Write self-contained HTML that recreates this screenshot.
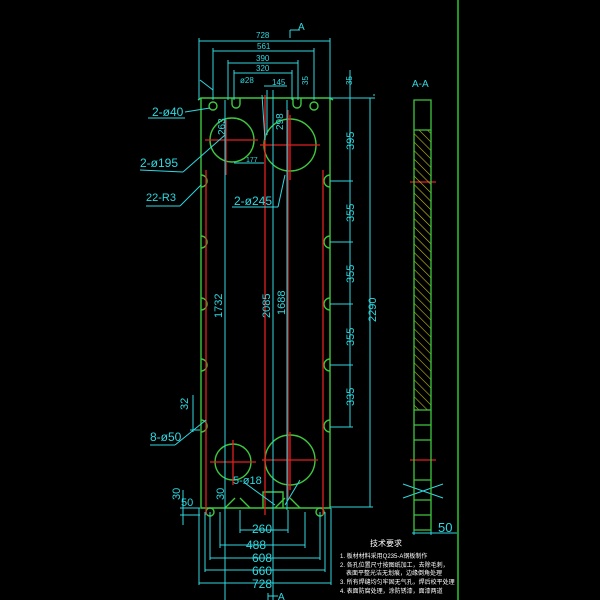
<!DOCTYPE html>
<html><head><meta charset="utf-8"><style>
html,body{margin:0;padding:0;background:#000;}
svg{display:block}
text{font-family:"Liberation Sans","Noto Sans CJK SC",sans-serif;fill:#2fd8e0;}
</style></head><body>
<svg width="600" height="600" viewBox="0 0 600 600" xmlns="http://www.w3.org/2000/svg">
<rect width="600" height="600" fill="#000"/>
<defs>
<pattern id="h" width="6" height="6" patternUnits="userSpaceOnUse" patternTransform="rotate(-45)">
<line x1="0" y1="0" x2="0" y2="6" stroke="#c8c020" stroke-width="1.2"/></pattern>
</defs>
<!-- right border line -->
<line x1="458" y1="0" x2="458" y2="600" stroke="#2ec82e" stroke-width="1.5"/>

<!-- plate outline -->
<g fill="none" stroke="#3ec83e" stroke-width="1.4">
<path d="M201,98 L330,98 L330,508 L201,508 Z"/>
<path d="M201,98 L198,100 M330,98 L333,100"/>
<g>
<path d="M201,175 a6,6 0 0 1 0,12"/><path d="M201,236 a6,6 0 0 1 0,12"/><path d="M201,298 a6,6 0 0 1 0,12"/><path d="M201,359 a6,6 0 0 1 0,12"/><path d="M201,420 a6,6 0 0 1 0,12"/>
<path d="M330,175 a6,6 0 0 0 0,12"/><path d="M330,236 a6,6 0 0 0 0,12"/><path d="M330,298 a6,6 0 0 0 0,12"/><path d="M330,359 a6,6 0 0 0 0,12"/><path d="M330,420 a6,6 0 0 0 0,12"/>
</g>
<circle cx="232" cy="140" r="22"/>
<circle cx="290" cy="145" r="26"/>
<circle cx="233" cy="462" r="18"/>
<circle cx="290" cy="460" r="25"/>
<circle cx="213" cy="106" r="4"/><circle cx="314" cy="106" r="4"/>
<circle cx="210" cy="512" r="4"/><circle cx="320" cy="512" r="4"/>
<path d="M232,98 v6 a4,4 0 0 0 8,0 v-6 M293,98 v6 a4,4 0 0 0 8,0 v-6"/>
<path d="M263,508 v-16 h20 v16"/>
<path d="M225,508 l10,-10 M250,508 l-10,-10 M275,508 l10,-10 M300,508 l-10,-10"/>
</g>

<!-- red centre lines -->
<g stroke="#e02020" stroke-width="1.3">
<line x1="206" y1="170" x2="206" y2="515"/>
<line x1="323" y1="170" x2="323" y2="515"/>
<line x1="265" y1="95" x2="265" y2="515"/>
<line x1="288" y1="110" x2="288" y2="500"/>
<line x1="226" y1="120" x2="226" y2="175"/>
<line x1="205" y1="140" x2="258" y2="140"/>
<line x1="260" y1="145" x2="320" y2="145"/>
<line x1="290" y1="115" x2="290" y2="180"/>
<line x1="210" y1="462" x2="256" y2="462"/>
<line x1="262" y1="460" x2="318" y2="460"/>
<line x1="290" y1="432" x2="290" y2="490"/>
<line x1="233" y1="440" x2="233" y2="485"/>
<line x1="410" y1="182" x2="436" y2="182"/>
<line x1="410" y1="460" x2="436" y2="460"/>
</g>

<!-- cyan dimension lines -->
<g stroke="#2fd8e0" stroke-width="1" fill="none">
<line x1="199" y1="38" x2="199" y2="100"/><line x1="330" y1="38" x2="330" y2="100"/>
<line x1="199" y1="41" x2="330" y2="41"/>
<line x1="213" y1="48" x2="213" y2="100"/><line x1="314" y1="48" x2="314" y2="100"/>
<line x1="213" y1="51" x2="314" y2="51"/>
<line x1="228" y1="60" x2="228" y2="100"/><line x1="298" y1="60" x2="298" y2="100"/>
<line x1="228" y1="63" x2="298" y2="63"/>
<line x1="234" y1="70" x2="234" y2="100"/><line x1="292" y1="70" x2="292" y2="100"/>
<line x1="234" y1="73" x2="292" y2="73"/>
<line x1="264" y1="86" x2="287" y2="86"/>
<line x1="225" y1="100" x2="225" y2="600"/>
<line x1="273" y1="90" x2="273" y2="600"/>
<line x1="287" y1="100" x2="287" y2="510"/>
<line x1="234" y1="163" x2="264" y2="163"/>
<line x1="330" y1="98" x2="375" y2="98"/>
<line x1="330" y1="181" x2="353" y2="181"/><line x1="330" y1="242" x2="353" y2="242"/>
<line x1="330" y1="304" x2="353" y2="304"/><line x1="330" y1="365" x2="353" y2="365"/>
<line x1="330" y1="427" x2="353" y2="427"/>
<line x1="350" y1="70" x2="350" y2="427"/>
<line x1="370" y1="98" x2="370" y2="507"/>
<line x1="330" y1="507" x2="373" y2="507"/>
<line x1="373" y1="95" x2="375" y2="95"/>
<line x1="240" y1="510" x2="240" y2="533"/><line x1="288" y1="510" x2="288" y2="533"/>
<line x1="240" y1="530" x2="288" y2="530"/>
<line x1="220" y1="512" x2="220" y2="548"/><line x1="305" y1="512" x2="305" y2="548"/>
<line x1="220" y1="545" x2="305" y2="545"/>
<line x1="210" y1="512" x2="210" y2="560"/><line x1="320" y1="512" x2="320" y2="560"/>
<line x1="210" y1="558" x2="320" y2="558"/>
<line x1="205" y1="512" x2="205" y2="572"/><line x1="325" y1="512" x2="325" y2="572"/>
<line x1="205" y1="570" x2="325" y2="570"/>
<line x1="199" y1="508" x2="199" y2="585"/><line x1="331" y1="508" x2="331" y2="585"/>
<line x1="199" y1="583" x2="331" y2="583"/>
<line x1="180" y1="508" x2="200" y2="508"/><line x1="180" y1="515" x2="200" y2="515"/>
<line x1="183" y1="490" x2="183" y2="525"/>
<line x1="190" y1="430" x2="200" y2="430"/><line x1="193" y1="395" x2="193" y2="432"/>
<line x1="185" y1="112" x2="210" y2="108"/><line x1="148" y1="118" x2="185" y2="118"/>
<line x1="183" y1="172" x2="225" y2="135"/><line x1="140" y1="170" x2="183" y2="172"/>
<line x1="180" y1="206" x2="201" y2="185"/><line x1="146" y1="206" x2="180" y2="206"/>
<line x1="232" y1="207" x2="278" y2="207"/><line x1="278" y1="207" x2="285" y2="175"/>
<line x1="175" y1="445" x2="206" y2="420"/><line x1="150" y1="445" x2="175" y2="445"/>
<line x1="245" y1="483" x2="275" y2="505"/>
<line x1="300" y1="480" x2="285" y2="505"/>
<line x1="267" y1="90" x2="267" y2="135"/><line x1="262" y1="95" x2="265" y2="140"/>
<line x1="200" y1="80" x2="213" y2="90"/>
<line x1="290" y1="30" x2="290" y2="38"/><line x1="290" y1="30" x2="300" y2="30"/>
<line x1="268" y1="593" x2="268" y2="600"/><line x1="268" y1="596" x2="278" y2="596"/>
<line x1="412" y1="533" x2="457" y2="533"/>
<line x1="414" y1="495" x2="414" y2="535"/><line x1="431" y1="495" x2="431" y2="535"/>
<line x1="403" y1="484" x2="443" y2="498"/><line x1="403" y1="498" x2="443" y2="484"/>
</g>

<!-- section A-A -->
<rect x="414" y="130" width="17" height="280" fill="url(#h)"/>
<g fill="none" stroke="#3ec83e" stroke-width="1.3">
<path d="M414,100 L431,100 L431,530 L414,530 Z"/>
<line x1="414" y1="130" x2="431" y2="130"/><line x1="414" y1="410" x2="431" y2="410"/>
<line x1="414" y1="425" x2="431" y2="425"/><line x1="414" y1="440" x2="431" y2="440"/>
<line x1="414" y1="480" x2="431" y2="480"/><line x1="414" y1="500" x2="431" y2="500"/>
<line x1="414" y1="515" x2="431" y2="515"/>
</g>

<!-- labels -->
<g font-size="11">
<text x="256" y="38" font-size="8">728</text>
<text x="257" y="49" font-size="8">561</text>
<text x="256" y="61" font-size="8">390</text>
<text x="256" y="71" font-size="8">320</text>
<text x="240" y="83" font-size="8">ø28</text>
<text x="272" y="85" font-size="8">145</text>
<text x="298" y="30" font-size="10">A</text>
<text x="152" y="116" font-size="12">2-ø40</text>
<text x="140" y="167" font-size="12">2-ø195</text>
<text x="146" y="201" font-size="11">22-R3</text>
<text x="234" y="205" font-size="12">2-ø245</text>
<text x="150" y="441" font-size="12">8-ø50</text>
<text x="233" y="484" font-size="11">5-ø18</text>
<text x="246" y="162" font-size="7">177</text>
<text x="252" y="533" font-size="12">260</text>
<text x="246" y="549" font-size="12">488</text>
<text x="252" y="562" font-size="12">608</text>
<text x="252" y="575" font-size="12">660</text>
<text x="252" y="588" font-size="12">728</text>
<text x="181" y="506" font-size="11">50</text>
<text x="412" y="87" font-size="10">A-A</text>
<text x="438" y="532" font-size="13">50</text>
<text x="278" y="600" font-size="10">A</text>
</g>
<g font-size="11">
<text transform="translate(222,318) rotate(-90)">1732</text>
<text transform="translate(270,318) rotate(-90)">2085</text>
<text transform="translate(285,315) rotate(-90)">1688</text>
<text transform="translate(376,322) rotate(-90)">2290</text>
<text transform="translate(354,150) rotate(-90)">395</text>
<text transform="translate(354,222) rotate(-90)">355</text>
<text transform="translate(354,283) rotate(-90)">355</text>
<text transform="translate(354,346) rotate(-90)">355</text>
<text transform="translate(354,406) rotate(-90)">335</text>
<text transform="translate(352,85) rotate(-90)" font-size="8">35</text>
<text transform="translate(308,85) rotate(-90)" font-size="8">35</text>
<text transform="translate(225,135) rotate(-90)" font-size="10">263</text>
<text transform="translate(283,130) rotate(-90)" font-size="10">298</text>
<text transform="translate(188,410) rotate(-90)">32</text>
<text transform="translate(180,500) rotate(-90)">30</text>
<text transform="translate(224,500) rotate(-90)">30</text>
</g>
<!-- tech notes -->
<g fill="#fff">
<text x="370" y="546" font-size="8" style="fill:#fff">技术要求</text>
<g font-size="6" style="fill:#fff">
<text x="340" y="558" style="fill:#fff">1. 板材材料采用Q235-A钢板制作</text>
<text x="340" y="567" style="fill:#fff">2. 各孔位置尺寸按图纸加工，去除毛刺，</text>
<text x="346" y="575" style="fill:#fff">表面平整光洁无划痕，边缘倒角处理</text>
<text x="340" y="584" style="fill:#fff">3. 所有焊缝均匀牢固无气孔，焊后校平处理</text>
<text x="340" y="593" style="fill:#fff">4. 表面防腐处理，涂防锈漆，面漆两道</text>
</g>
</g>
</svg>
</body></html>
